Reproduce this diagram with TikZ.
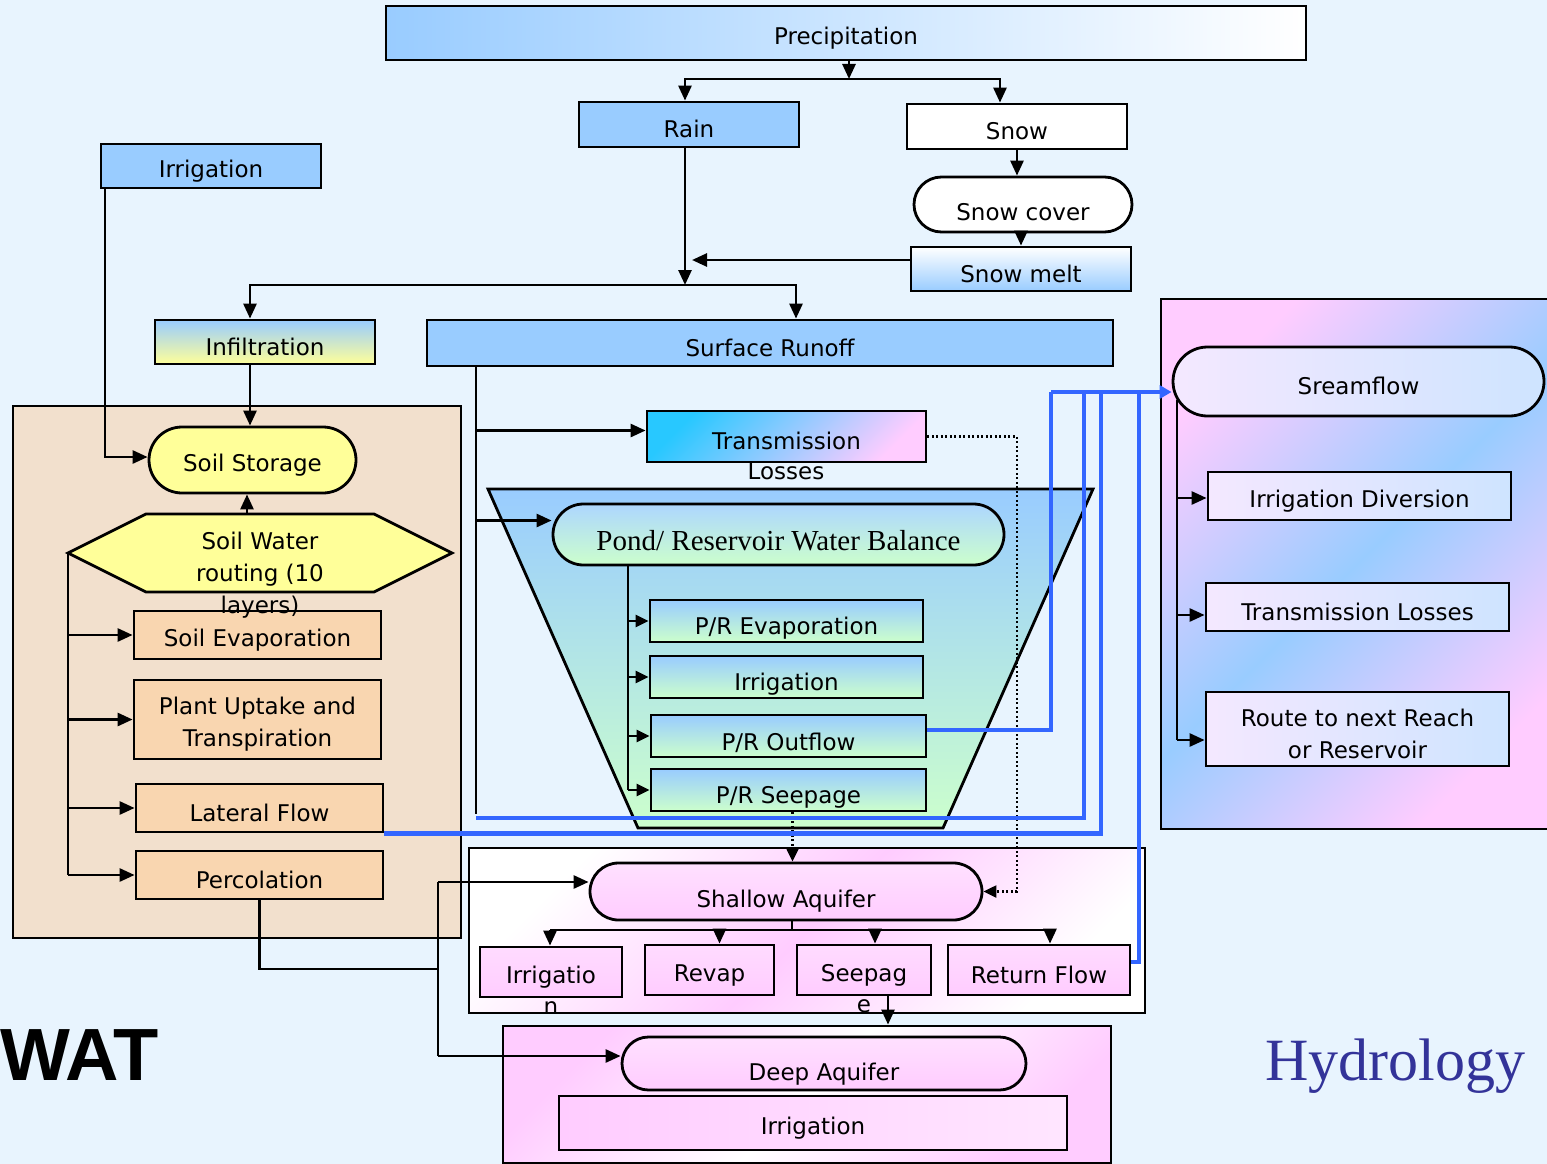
\documentclass[tikz,border=0pt]{standalone}
\usepackage{fontspec}
\setmainfont{DejaVu Sans}
\newfontfamily\serifA{Liberation Serif}
\newfontfamily\sansA{Liberation Sans}
\usetikzlibrary{arrows.meta,shapes.misc}
\definecolor{bgc}{RGB}{232,244,254}
\definecolor{bl}{RGB}{153,204,255}
\definecolor{yel}{RGB}{255,255,153}
\definecolor{tanc}{RGB}{242,224,205}
\definecolor{pch}{RGB}{249,214,176}
\definecolor{pk}{RGB}{255,204,255}
\definecolor{gr}{RGB}{204,255,204}
\definecolor{cy}{RGB}{40,200,255}
\definecolor{lbl}{RGB}{51,102,255}
\definecolor{hyd}{RGB}{51,51,153}
\definecolor{lav}{RGB}{244,232,255}
\definecolor{lbl2}{RGB}{206,228,255}
\newcommand{\bfnt}{\fontsize{23}{32}\selectfont}
\tikzset{
    TH/.style ={execute at begin node={\rule{0pt}{#1}}},
    BX/.style ={rectangle, draw, line width=2.8pt, inner sep=0pt, font=\bfnt, align=center, TH=27pt},
    RR/.style ={BX, rounded rectangle},
    BLB/.style ={BX, fill=bl},
    PCH/.style ={BX, fill=pch},
    PRB/.style ={BX, top color=bl, bottom color=gr, TH=32pt},
    PKB/.style ={BX, top color=pk!70, bottom color=pk},
    STB/.style ={BX, left color=lav, right color=lbl2},
    LN/.style ={line width=2.7pt},
    AR/.style ={LN, -{Triangle[length=15pt,width=13pt]}},
    AR2/.style ={LN, -{Triangle[length=13pt,width=12pt]}},
    BU/.style ={line width=4.5pt, draw=lbl},
    DT/.style ={line width=2.2pt, dash pattern=on 2pt off 2.5pt}
}
\begin{document}
\begin{tikzpicture}[x=1pt,y=-1pt]
    \useasboundingbox (0,0) rectangle (1547,1164);
    \fill[bgc] (0,0) rectangle (1547,1164);
    \clip (0,0) rectangle (1547,1164);
    % containers
    \node[BX, fill=tanc, minimum width=448, minimum height=532] (soilbx) at (237,672) {};
    \node[BX, top color=pk, bottom color=pk, middle color=bl, shading angle=45, minimum width=392, minimum height=530] (strbx) at (1357,564) {};
    \node[BX, top color=white, bottom color=white, middle color=pk, shading angle=45, minimum width=676, minimum height=165] (shbx) at (807,930.5) {};
    \node[BX, top color=pk, bottom color=pk, middle color=white, shading angle=45, minimum width=608, minimum height=137] (dpbx) at (807,1094.5) {};
    \shadedraw[top color=bl, bottom color=gr, line width=2.8pt] (488,489) -- (1093,489) -- (943,828) -- (638,828) -- cycle;
    % top
    \node[BX, left color=bl, right color=white, minimum width=920, minimum height=54, TH=22.5pt] (prec) at (846,33) {Precipitation};
    \node[BLB, minimum width=220, minimum height=45] (rain) at (689,124.5) {Rain};
    \node[BX, fill=white, minimum width=220, minimum height=45] (snow) at (1017,126.5) {Snow};
    \node[RR, fill=white, minimum width=218, minimum height=55, TH=33pt] (scov) at (1023,204.5) {Snow cover};
    \node[BX, top color=white, bottom color=bl, minimum width=220, minimum height=44] (smelt) at (1021,269) {Snow melt};
    \node[BLB, minimum width=220, minimum height=44] (irr) at (211,166) {Irrigation};
    \node[BX, top color=bl, bottom color=yel, minimum width=220, minimum height=44] (inf) at (265,342) {Infiltration};
    \node[BLB, minimum width=686, minimum height=46] (sr) at (770,343) {Surface Runoff};
    % soil
    \node[RR, fill=yel, minimum width=207, minimum height=66] (sst) at (252.5,460) {Soil Storage};
    \filldraw[fill=yel, line width=2.8pt] (68,553) -- (146,514) -- (374,514) -- (452,553) -- (374,592) -- (146,592) -- cycle;
    \node[PCH, minimum width=247, minimum height=48] (sev) at (257.5,635) {Soil Evaporation};
    \node[PCH, minimum width=247, minimum height=79, TH=0pt] (plt) at (257.5,719.5) {\rule{0pt}{27pt}Plant Uptake and\\Transpiration};
    \node[PCH, minimum width=247, minimum height=48] (lat) at (259.5,808) {Lateral Flow};
    \node[PCH, minimum width=247, minimum height=48] (perc) at (259.5,875) {Percolation};
    \node[font=\bfnt, align=center] (swr) at (260,575) {Soil Water\\routing (10\\layers)};
    % pond
    \node[BX, top color=cy, bottom color=pk, shading angle=45, minimum width=279, minimum height=51, TH=19pt] (trl) at (786.5,436.5) {Transmission};
    \node[font=\bfnt] (trlx) at (786,471) {Losses};
    \node[RR, top color=bl!80, bottom color=gr, minimum width=451, minimum height=61, font=\serifA\fontsize{29}{32}\selectfont, TH=33pt] (pond) at (778.5,534.5) {Pond/ Reservoir Water Balance};
    \node[PRB, minimum width=273, minimum height=42] (pev) at (786.5,621) {P/R Evaporation};
    \node[PRB, minimum width=273, minimum height=42] (pirr) at (786.5,677) {Irrigation};
    \node[PRB, minimum width=275, minimum height=42, TH=30pt] (pout) at (788.5,736) {P/R Outflow};
    \node[PRB, minimum width=275, minimum height=42] (pse) at (788.5,790) {P/R Seepage};
    % stream
    \node[RR, left color=lav, right color=lbl2, minimum width=371, minimum height=69, TH=24pt] (stream) at (1358.5,381.5) {Sreamflow};
    \node[STB, minimum width=303, minimum height=48] (idiv) at (1359.5,496) {Irrigation Diversion};
    \node[STB, minimum width=303, minimum height=48, TH=24pt] (tls) at (1357.5,607) {Transmission Losses};
    \node[STB, minimum width=303, minimum height=74, TH=0pt] (route) at (1357.5,729) {\rule{0pt}{28pt}Route to next Reach\\or Reservoir};
    % aquifers
    \node[RR, top color=pk!60, bottom color=pk, minimum width=392, minimum height=57, TH=36pt] (shal) at (786,891.5) {Shallow Aquifer};
    \node[PKB, minimum width=142, minimum height=50] (irrn) at (551,972) {Irrigatio};
    \node[font=\bfnt] (irrnx) at (551,1008) {n};
    \node[PKB, minimum width=129, minimum height=50] (rvp) at (709.5,970) {Revap};
    \node[PKB, minimum width=134, minimum height=50] (sep) at (864,970) {Seepag};
    \node[font=\bfnt] (sepx) at (864,1006) {e};
    \node[PKB, minimum width=182, minimum height=50] (retf) at (1039,970) {Return Flow};
    \node[RR, top color=pk!60, bottom color=pk, minimum width=404, minimum height=53, TH=38pt] (deep) at (824,1063.5) {Deep Aquifer};
    \node[BX, left color=pk, right color=pk!50, minimum width=508, minimum height=54] (dirr) at (813,1123) {Irrigation};
    % titles
    \node[font=\sansA\bfseries\fontsize{74}{80}\selectfont, anchor=base west, inner sep=0pt] (wat) at (0,1080) {WAT};
    \node[font=\serifA\fontsize{60}{66}\selectfont, text=hyd, anchor=base west, inner sep=0pt] (hydr) at (1265,1080) {Hydrology};
    % connectors top
    \coordinate (sp) at (849,79);
    \coordinate (ra) at (685,79);
    \coordinate (sn) at (1000,79);
    \draw[AR] (prec.south -| sp) -- (sp);
    \draw[AR] (sn) -- (ra) -- (ra |- rain.north);
    \draw[AR] (ra) -- (sn) -- (sn |- snow.north);
    \draw[AR] (snow.south) -- (snow.south |- scov.north);
    \draw[AR] (scov.south -| smelt.north) -- (smelt.north);
    \coordinate (rj) at (685,285);
    \coordinate (mj) at (692,260);
    \draw[AR] (ra |- rain.south) -- (rj);
    \draw[AR] (smelt.west |- mj) -- (mj);
    \coordinate (ia) at (250,285);
    \coordinate (sa) at (796,285);
    \draw[AR] (sa) -- (ia) -- (ia |- inf.north);
    \draw[AR] (ia) -- (sa) -- (sa |- sr.north);
    \draw[AR] (ia |- inf.south) -- (ia |- sst.north);
    \coordinate (ic) at (105,457);
    \draw[AR] (irr.south -| ic) -- (ic) -- ([yshift=3]sst.west);
    % soil
    \coordinate (hxn) at (247,514);
    \coordinate (hxw) at (68,553);
    \draw[AR] (hxn) -- (hxn |- sst.south);
    \draw[LN] (hxw) -- (hxw |- perc.west);
    \foreach \n in {sev,plt,lat,perc}
        \draw[AR] (hxw |- \n.west) -- (\n.west);
    \coordinate (pj) at (438,969);
    \coordinate (pa) at (438,882);
    \coordinate (pb) at (438,1056);
    \draw[LN] (perc.south) -- (perc.south |- pj) -- (pj);
    \draw[LN] (pa) -- (pb);
    \draw[AR] (pa) -- (pa -| shal.west);
    \draw[AR] (pb) -- (pb -| deep.west);
    % surface runoff
    \coordinate (sx) at (476,814);
    \draw[LN] (sr.south -| sx) -- (sx);
    \draw[AR] ([yshift=6]trl.west -| sx) -- ([yshift=6]trl.west);
    \draw[AR] ([yshift=14]pond.west -| sx) -- ([yshift=14]pond.west);
    \coordinate (dj) at (1017,436);
    \draw[DT, -{Triangle[length=13pt,width=12pt]}] (trl.east) -- (trl.east -| dj) -- (dj |- shal.east) -- (shal.east);
    \coordinate (pv) at (628,565);
    \draw[LN] (pv) -- (pv |- pse.west);
    \foreach \n in {pev,pirr,pout,pse}
        \draw[AR2] (pv |- \n.west) -- (\n.west);
    \draw[DT, -{Triangle[length=13pt,width=12pt]}] ([xshift=4]pse.south) -- ([xshift=4]pse.south |- shal.north);
    % blue lines
    \coordinate (b1) at (1051,392);
    \coordinate (b2) at (1084,392);
    \coordinate (b3) at (1101,392);
    \coordinate (b4) at (1139,392);
    \coordinate (r1) at (476,818);
    \draw[BU] ([yshift=6]pout.east) -- ([yshift=6]pout.east -| b1) -- (b1);
    \draw[BU] (r1) -- (r1 -| b2) -- (b2);
    \draw[BU] (lat.south east) -- (lat.south east -| b3) -- (b3);
    \draw[BU] ([yshift=8]retf.east) -- ([yshift=8]retf.east -| b4) -- (b4);
    \draw[BU, -{Triangle[length=12pt,width=13pt]}] (b1) -- ([yshift=-10.5]stream.west);
    % stream
    \coordinate (sv) at (1177,400);
    \draw[LN] (sv) -- ([yshift=-11]route.west -| sv);
    \foreach \n/\d in {idiv/-2,tls/-8,route/-11}
        \draw[AR] ([yshift=\d]\n.west -| sv) -- ([yshift=\d]\n.west);
    % aquifer
    \coordinate (bj) at (792,930);
    \coordinate (bl0) at (550,930);
    \coordinate (br0) at (1050,930);
    \draw[LN] (bj |- shal.south) -- (bj);
    \draw[LN] (bl0) -- (br0);
    \foreach \n/\d in {irrn/-1,rvp/10,sep/11,retf/11}
        \draw[AR] ([xshift=\d]\n.north |- bj) -- ([xshift=\d]\n.north);
    \draw[AR] ([xshift=24]sep.south) -- ([xshift=24]sep.south |- dpbx.north);
\end{tikzpicture}
\end{document}
